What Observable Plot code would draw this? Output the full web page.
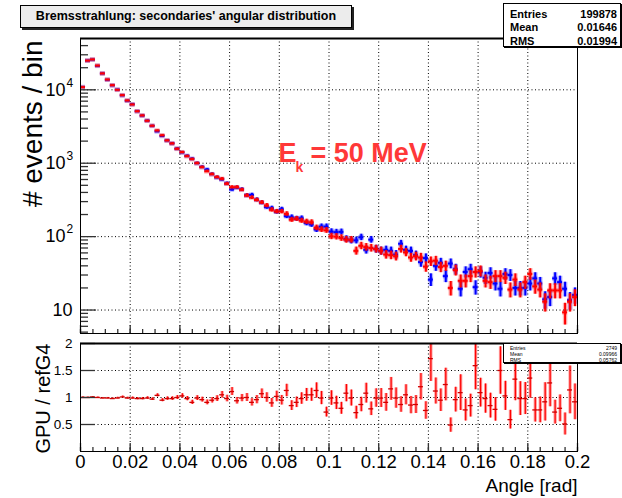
<!DOCTYPE html>
<html><head><meta charset="utf-8">
<script src="https://cdn.jsdelivr.net/npm/d3@7"></script>
<script src="https://cdn.jsdelivr.net/npm/@observablehq/plot@0.6"></script>
<style>
body{margin:0;background:#fff;}
#wrap{position:relative;width:622px;height:498px;overflow:hidden;font-family:"Liberation Sans",Arial,sans-serif;background:#fff;}
#top,#bot{position:absolute;left:0;}
#top{top:0;}
#bot{top:340px;}
.title{position:absolute;left:20px;top:5px;width:330px;height:21px;background:#ececec;border:1px solid #000;box-shadow:2px 2px 0 #222;font-weight:bold;font-size:12.5px;line-height:21px;text-align:center;white-space:nowrap;}
.stats{position:absolute;background:#fff;border:1px solid #000;box-shadow:1px 1px 0 #000;box-sizing:border-box;}
.stats .row{display:flex;justify-content:space-between;}
#stTop{left:503px;top:3px;width:118px;height:44px;padding:4px 3px 0 6px;font-weight:bold;font-size:11px;line-height:13.3px;}
#stBot{left:503px;top:343px;width:118px;height:20px;padding:1px 3px 0 6px;font-size:5px;line-height:6px;}
</style></head>
<body>
<div id="wrap">
  <div id="top"></div>
  <div id="bot"></div>
  <div class="title" id="title"></div>
  <div class="stats" id="stTop"></div>
  <div class="stats" id="stBot"></div>
</div>
<script>
// ---------- data ----------
const chartTitle = "Bremsstrahlung: secondaries' angular distribution";
const binWidth = 0.002;
const nBins = 100;
// GPU histogram (red), counts per bin
const gpuCounts = [
  10850, 25000, 25900, 21400, 16700, 13800, 11550, 10000, 8450, 7150,
  6300, 5100, 4470, 3785, 3235, 2790, 2400, 2040, 1855, 1570,
  1413, 1245, 1135, 1000, 881, 775, 707, 645, 613, 525,
  471, 471, 435, 363, 340, 316, 292, 266, 232, 220,
  220, 204, 170, 175, 165, 160, 157, 132, 125, 122,
  101, 100, 96, 91, 91, 64, 75, 72, 70, 68,
  64, 57, 56, 54, 68, 61, 52, 54, 52, 39,
  46, 47, 38.5, 40, 20, 35, 25, 25, 29, 33,
  34, 25, 24, 29, 29, 27.5, 19, 26, 19, 24,
  31, 21, 19, 13, 18.5, 18.5, 18.5, 9.3, 13, 15
];
// reference Geant4 histogram (blue), counts per bin
const refCounts = [
  10900, 25000, 25800, 21200, 16700, 13700, 11500, 10050, 8400, 7100,
  6350, 5100, 4450, 3800, 3230, 2710, 2350, 2040, 1860, 1580,
  1400, 1260, 1150, 1000, 890, 820, 710, 640, 600, 530,
  438, 465, 440, 365, 370, 318, 290, 252, 244, 218,
  236, 190, 184, 176, 178, 153, 146, 125, 137, 137,
  117, 115, 116, 93, 89, 89, 98, 66, 91, 68,
  64, 66, 64, 57, 80, 66, 64, 56, 45, 51,
  26, 40, 44, 29, 43, 36, 19.5, 33, 36, 20.5,
  33, 27.5, 32, 23, 19.5, 31, 30, 20, 20, 20,
  23, 27, 23, 14, 15, 27, 24, 19.5, 13.6, 16
];
// ratio GPU / refG4
const ratioValues = [
  1.00, 1.00, 1.01, 1.00, 0.99, 0.99, 0.98, 0.99, 1.01, 0.99,
  0.99, 0.98, 0.98, 0.99, 0.97, 1.04, 0.95, 0.98, 0.98, 1.00,
  1.03, 0.98, 0.91, 0.99, 0.96, 0.91, 0.95, 0.98, 1.05, 0.98,
  1.11, 0.94, 0.99, 1.00, 0.91, 0.96, 1.07, 1.00, 0.90, 1.02,
  0.95, 1.13, 0.85, 0.91, 0.98, 1.05, 1.05, 1.13, 0.99, 0.73,
  0.99, 0.90, 0.80, 1.08, 0.99, 0.72, 0.87, 1.08, 0.79, 0.99,
  0.99, 0.91, 1.16, 0.99, 0.87, 1.05, 0.86, 0.87, 1.20, 0.76,
  1.72, 1.12, 0.95, 1.24, 0.49, 0.96, 1.09, 0.77, 0.85, 1.59,
  1.09, 0.98, 0.85, 0.78, 1.50, 1.03, 0.59, 1.34, 0.98, 0.98,
  1.36, 0.77, 0.77, 0.92, 1.27, 0.73, 0.80, 0.51, 1.14, 0.92
];
const statsTop = [["Entries", "199878"], ["Mean", "0.01646"], ["RMS", "0.01994"]];
const statsBot = [["Entries", "2749"], ["Mean", "0.09966"], ["RMS", "0.05762"]];
const xMajorTicks = [0, 0.02, 0.04, 0.06, 0.08, 0.1, 0.12, 0.14, 0.16, 0.18, 0.2];
const xGridTicks = [0.02, 0.04, 0.06, 0.08, 0.1, 0.12, 0.14, 0.16, 0.18];
const topMajorY = [10, 100, 1000, 10000];
const ratioTicks = [0.5, 1, 1.5, 2];
const ratioGrid = [0.5, 1, 1.5];
const yTitleTop = "# events / bin";
const yTitleBot = "GPU / refG4";
const xTitle = "Angle [rad]";
const energyLabel = ["E", "k", "= 50 MeV"];

// ---------- derived ----------
const xMinorTicks = d3.range(0, 41).map(i => i * 0.005);
const topMinorY = [];
for (const dec of [1, 10, 100, 1000, 10000]) for (let m = 2; m <= 9; m++) topMinorY.push(m * dec);
const rows = d3.range(nBins).map(i => {
  const lo = i * binWidth;
  const g = gpuCounts[i], r0 = refCounts[i], r = ratioValues[i];
  return {lo, hi: lo + binWidth, mid: lo + binWidth / 2, gpu: g, ref: r0, ratio: r,
    gErr: Math.sqrt(g), rErr: Math.sqrt(r0), qErr: r * Math.sqrt(1 / g + 1 / r0)};
});

const FONT = "'Liberation Sans', Arial, Helvetica, sans-serif";
const W = 622, mL = 80, mR = 45;
const PW = W - mL - mR;
const topH = 340, tmT = 38, tmB = 7, TPH = topH - tmT - tmB;
const botH = 158, bmT = 3, bmB = 47, BPH = botH - bmT - bmB;
const dotted = {stroke: "#000", strokeDasharray: "1,2.5", strokeWidth: 1};
const tickStyle = {stroke: "#333", strokeWidth: 1.3};

function histMarks(key, errKey, color) {
  return [
    Plot.ruleY(rows, {x1: "lo", x2: "hi", y: key, stroke: color, strokeOpacity: 0.3, strokeWidth: 4.5, clip: true}),
    Plot.ruleX(rows, {x: "mid", y1: d => d[key] - d[errKey], y2: d => d[key] + d[errKey], stroke: color, strokeOpacity: 0.3, strokeWidth: 4.5, clip: true}),
    Plot.ruleY(rows, {x1: "lo", x2: "hi", y: key, stroke: color, strokeWidth: 2, clip: true}),
    Plot.ruleX(rows, {x: "mid", y1: d => d[key] - d[errKey], y2: d => d[key] + d[errKey], stroke: color, strokeWidth: 2, clip: true})
  ];
}

const topPlot = Plot.plot({
  width: W, height: topH, marginLeft: mL, marginRight: mR, marginTop: tmT, marginBottom: tmB,
  style: {fontFamily: FONT, fontSize: "17px", background: "transparent", overflow: "visible", color: "#000"},
  x: {domain: [0, 0.2], axis: null},
  y: {type: "log", domain: [4.79, 50000], axis: null},
  marks: [
    Plot.ruleX(xGridTicks, {x: d => d, ...dotted}),
    Plot.ruleY(topMajorY, {y: d => d, ...dotted}),
    ...histMarks("ref", "rErr", "#0000ff"),
    ...histMarks("gpu", "gErr", "#ff0000"),
    Plot.tickY(topMinorY.filter(d => d > 4.79 && d < 50000), {y: d => d, insetRight: PW - 8, ...tickStyle}),
    Plot.tickY(topMajorY, {y: d => d, insetRight: PW - 16, ...tickStyle}),
    Plot.tickX(xMinorTicks, {x: d => d, insetTop: TPH - 4, ...tickStyle}),
    Plot.tickX(xMajorTicks, {x: d => d, insetTop: TPH - 8, ...tickStyle}),
    Plot.frame({stroke: "#000", strokeWidth: 1}),
    Plot.ruleY([50000], {y: d => d, stroke: "#000", strokeWidth: 2}),
    Plot.text(topMajorY.filter(d => d === 10), {y: d => d, frameAnchor: "left", dx: -8, textAnchor: "end", text: d => "10", fontSize: 18}),
    Plot.text(topMajorY.filter(d => d > 10), {y: d => d, frameAnchor: "left", dx: -15, textAnchor: "end", text: d => "10", fontSize: 18}),
    Plot.text(topMajorY.filter(d => d > 10), {y: d => d, frameAnchor: "left", dx: -14, dy: -7, textAnchor: "start", text: d => String(Math.round(Math.log10(d))), fontSize: 12}),
    Plot.text([yTitleTop], {frameAnchor: "top-left", dx: -58, dy: 2, rotate: -90, textAnchor: "end", text: d => d, fontSize: 28}),
    Plot.text([energyLabel[0]], {x: 0.0797, y: 1350, text: d => d, textAnchor: "start", fontSize: 27, fontWeight: "bold", fill: "#ff3838"}),
    Plot.text([energyLabel[1]], {x: 0.0797, y: 1350, dx: 17, dy: 14, text: d => d, textAnchor: "start", fontSize: 14, fontWeight: "bold", fill: "#ff3838"}),
    Plot.text([energyLabel[2]], {x: 0.0797, y: 1350, dx: 32, text: d => d, textAnchor: "start", fontSize: 27, fontWeight: "bold", fill: "#ff3838"})
  ]
});
document.getElementById("top").appendChild(topPlot);

const fmtX = d => d === 0 ? "0" : String(+d.toFixed(2));
const botPlot = Plot.plot({
  width: W, height: botH, marginLeft: mL, marginRight: mR, marginTop: bmT, marginBottom: bmB,
  style: {fontFamily: FONT, fontSize: "17px", background: "transparent", overflow: "visible", color: "#000"},
  x: {domain: [0, 0.2], axis: null},
  y: {domain: [0, 2], axis: null},
  marks: [
    Plot.ruleX(xGridTicks, {x: d => d, ...dotted}),
    Plot.ruleY(ratioGrid, {y: d => d, ...dotted}),
    Plot.ruleX(rows, {x: "mid", y1: d => d.ratio - d.qErr, y2: d => d.ratio + d.qErr, stroke: "#ff0000", strokeOpacity: 0.4, strokeWidth: 3.2, clip: true}),
    Plot.ruleX(rows, {x: "mid", y1: d => d.ratio - d.qErr, y2: d => d.ratio + d.qErr, stroke: "#ff0000", strokeWidth: 1.2, clip: true}),
    Plot.ruleY(rows, {x1: "lo", x2: "hi", y: "ratio", stroke: "#d00000", strokeWidth: 1.3, clip: true}),
    Plot.tickY(ratioTicks, {y: d => d, insetRight: PW - 15, ...tickStyle}),
    Plot.tickX(xMinorTicks, {x: d => d, insetTop: BPH - 4, ...tickStyle}),
    Plot.tickX(xMajorTicks, {x: d => d, insetTop: BPH - 8, ...tickStyle}),
    Plot.frame({stroke: "#000", strokeWidth: 1}),
    Plot.ruleY([2], {y: d => d, stroke: "#000", strokeWidth: 2}),
    Plot.text(ratioTicks, {y: d => d, frameAnchor: "left", dx: -8, textAnchor: "end", text: d => String(d), fontSize: 13.5}),
    Plot.text(xMajorTicks, {x: d => d, frameAnchor: "bottom", dy: 3.5, lineAnchor: "top", text: fmtX, fontSize: 18.5}),
    Plot.text([xTitle], {frameAnchor: "bottom-right", dy: 27, lineAnchor: "top", textAnchor: "end", text: d => d, fontSize: 19}),
    Plot.text([yTitleBot], {frameAnchor: "top-left", dx: -45, dy: 0, rotate: -90, textAnchor: "end", text: d => d, fontSize: 20})
  ]
});
document.getElementById("bot").appendChild(botPlot);

document.getElementById("title").textContent = chartTitle;
function fillStats(id, list) {
  const el = document.getElementById(id);
  for (const [k, v] of list) {
    const row = document.createElement("div");
    row.className = "row";
    const a = document.createElement("span"); a.textContent = k;
    const b = document.createElement("span"); b.textContent = v;
    row.appendChild(a); row.appendChild(b);
    el.appendChild(row);
  }
}
fillStats("stTop", statsTop);
fillStats("stBot", statsBot);
</script>
</body></html>
